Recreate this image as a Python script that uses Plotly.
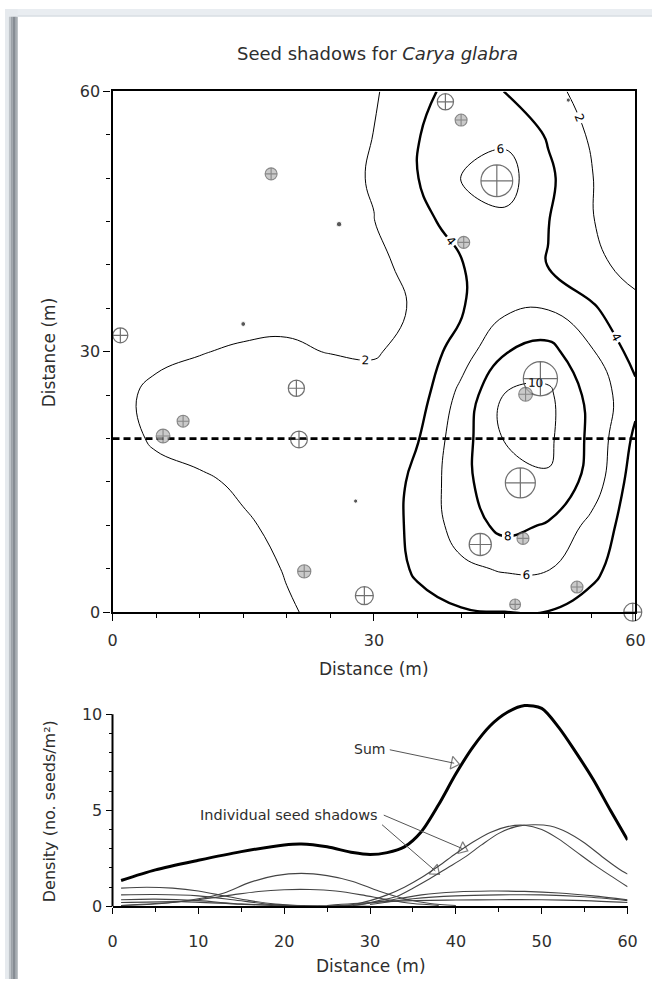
import plotly.graph_objects as go

# ---------------------------------------------------------------
# Seed-density field on the 60 m x 60 m plot (seeds / m^2), 5 m grid
# ---------------------------------------------------------------
grid_x = [0, 5, 10, 15, 20, 25, 30, 35, 40, 45, 50, 55, 60]
grid_y = [0, 5, 10, 15, 20, 25, 30, 35, 40, 45, 50, 55, 60]

density_y0 = [0.6, 0.9, 1.2, 1.55, 1.92, 2.2, 2.6, 3.3, 3.8, 3.98, 3.95, 3.2, 2.2]
density_y5 = [0.8, 1.1, 1.4, 1.7, 2.05, 2.3, 2.7, 4.3, 5.6, 6.2, 6.1, 4.5, 2.6]
density_y10 = [1.0, 1.3, 1.55, 1.85, 2.3, 2.5, 2.9, 4.5, 6.9, 8.6, 7.8, 5.4, 2.8]
density_y15 = [1.2, 1.5, 1.8, 2.2, 2.7, 2.7, 2.9, 4.4, 7.3, 9.7, 9.8, 7.2, 2.9]
density_y20 = [1.4, 2.2, 2.5, 2.9, 3.2, 3.1, 2.9, 3.9, 7.2, 10.05, 10.4, 7.5, 3.6]
density_y25 = [1.6, 2.3, 2.5, 2.8, 3.2, 3.0, 2.7, 3.0, 6.6, 10.1, 10.4, 7.3, 4.6]
density_y30 = [1.5, 1.7, 1.95, 2.15, 2.2, 1.95, 1.85, 2.6, 5.0, 7.9, 8.7, 6.2, 3.2]
density_y35 = [1.2, 1.3, 1.4, 1.5, 1.6, 1.6, 1.7, 2.1, 3.8, 5.6, 5.9, 4.3, 2.3]
density_y40 = [1.0, 1.1, 1.2, 1.3, 1.4, 1.6, 1.7, 2.4, 3.9, 5.0, 3.95, 2.3, 1.6]
density_y45 = [0.9, 1.0, 1.15, 1.3, 1.4, 1.6, 1.97, 3.3, 4.9, 5.6, 4.05, 2.05, 1.3]
density_y50 = [0.8, 0.9, 1.0, 1.2, 1.35, 1.6, 2.1, 3.95, 6.1, 6.8, 4.4, 2.05, 1.2]
density_y55 = [0.7, 0.8, 0.9, 1.1, 1.25, 1.5, 2.02, 3.9, 5.3, 5.6, 3.8, 1.7, 1.1]
density_y60 = [0.6, 0.7, 0.8, 0.95, 1.1, 1.4, 1.8, 3.3, 4.9, 3.98, 2.3, 1.6, 1.0]

density = [density_y0, density_y5, density_y10, density_y15, density_y20,
           density_y25, density_y30, density_y35, density_y40, density_y45,
           density_y50, density_y55, density_y60]

# ---------------------------------------------------------------
# Parent trees: position (m) and stem diameter (cm)
# ---------------------------------------------------------------
tree_x = [44.1, 49.1, 46.8, 42.2, 59.7, 28.9, 21.1, 21.4, 38.2, 0.9,
          5.8, 8.1, 22.0, 18.2, 40.0, 40.3, 47.4, 47.1, 53.3, 46.2,
          15.0, 26.0, 27.9, 52.3]
tree_y = [49.7, 26.9, 14.9, 7.8, 0.0, 1.9, 25.8, 19.9, 58.8, 31.9,
          20.3, 22.0, 4.7, 50.5, 56.7, 42.6, 25.1, 8.5, 2.9, 0.9,
          33.2, 44.7, 12.8, 59.0]
tree_dbh = [53, 57, 50, 37, 30, 30, 27, 28, 27, 25,
            23, 20, 22, 20, 20, 20, 23, 20, 20, 18,
            8, 9, 7, 7]

# transect along which the seed shadows are drawn
transect_y = 20

# ---------------------------------------------------------------
# Seed shadows along the transect (seeds / m^2)
# ---------------------------------------------------------------
sum_x = [1, 5, 10, 15, 20, 22, 25, 28, 30, 32, 34, 36, 38, 40, 42, 44, 46, 48,
         50, 52, 54, 56, 58, 60]
sum_v = [1.35, 1.9, 2.4, 2.85, 3.2, 3.25, 3.1, 2.8, 2.7, 2.8, 3.1, 3.9, 5.3,
         6.9, 8.3, 9.4, 10.1, 10.45, 10.3, 9.3, 8.0, 6.6, 5.0, 3.45]

shadow_a_x = [24, 28, 30, 32, 34, 36, 38, 40, 42, 44, 46, 48, 50, 52, 54, 56, 58, 60]
shadow_a_v = [0.0, 0.1, 0.3, 0.6, 1.0, 1.5, 2.1, 2.75, 3.35, 3.85, 4.15, 4.22,
              4.0, 3.5, 2.85, 2.2, 1.6, 1.02]

shadow_b_x = [25, 29, 31, 33, 35, 37, 39, 41, 43, 45, 47, 49, 51, 53, 55, 57, 59, 60]
shadow_b_v = [0.0, 0.1, 0.3, 0.5, 0.95, 1.45, 2.0, 2.55, 3.2, 3.8, 4.15, 4.25,
              4.18, 3.85, 3.3, 2.6, 1.95, 1.68]

shadow_c_x = [1, 4, 7, 10, 13, 16, 19, 22, 25, 28, 31, 34, 37, 40]
shadow_c_v = [0.05, 0.1, 0.2, 0.4, 0.7, 1.25, 1.6, 1.72, 1.6, 1.3, 0.8, 0.4, 0.15, 0.05]

shadow_d_x = [1, 5, 10, 14, 17, 20, 23, 26, 29, 32, 35, 38]
shadow_d_v = [0.05, 0.15, 0.35, 0.6, 0.78, 0.87, 0.88, 0.8, 0.6, 0.35, 0.15, 0.05]

shadow_e_x = [1, 4, 7, 10, 13, 16, 19, 22]
shadow_e_v = [0.95, 1.0, 0.95, 0.8, 0.55, 0.3, 0.12, 0.03]

shadow_f_x = [1, 5, 10, 14, 18, 22]
shadow_f_v = [0.6, 0.62, 0.55, 0.35, 0.12, 0.02]

shadow_g_x = [1, 5, 10, 15, 20]
shadow_g_v = [0.35, 0.38, 0.3, 0.12, 0.02]

shadow_h_x = [1, 8, 15, 22, 30]
shadow_h_v = [0.2, 0.25, 0.12, 0.04, 0.0]

shadow_i_x = [28, 32, 36, 40, 44, 48, 52, 56, 60]
shadow_i_v = [0.05, 0.3, 0.6, 0.75, 0.8, 0.78, 0.7, 0.55, 0.35]

shadow_j_x = [30, 35, 40, 45, 50, 55, 60]
shadow_j_v = [0.1, 0.4, 0.55, 0.6, 0.6, 0.5, 0.3]

shadow_k_x = [25, 30, 35, 40, 45, 50, 55, 60]
shadow_k_v = [0.05, 0.2, 0.3, 0.33, 0.35, 0.35, 0.3, 0.2]

shadows = [(shadow_a_x, shadow_a_v), (shadow_b_x, shadow_b_v),
           (shadow_c_x, shadow_c_v), (shadow_d_x, shadow_d_v),
           (shadow_e_x, shadow_e_v), (shadow_f_x, shadow_f_v),
           (shadow_g_x, shadow_g_v), (shadow_h_x, shadow_h_v),
           (shadow_i_x, shadow_i_v), (shadow_j_x, shadow_j_v),
           (shadow_k_x, shadow_k_v)]

# ---------------------------------------------------------------
W, H = 662, 989
FONT = "DejaVu Sans"
INK = "#2e2e2e"


def px(x):
    return x / W


def py(y):
    return 1 - y / H


fig = go.Figure()

# --- contour map -------------------------------------------------
contour_common = dict(
    x=grid_x, y=grid_y, z=density,
    xaxis="x", yaxis="y",
    autocontour=False,
    colorscale=[[0, "black"], [1, "black"]],
    showscale=False, hoverinfo="skip",
)
fig.add_trace(go.Contour(
    **contour_common,
    contours=dict(start=2, end=10, size=4, coloring="lines", showlabels=True,
                  labelfont=dict(family=FONT, size=12, color="black")),
    line=dict(width=1.0, smoothing=1.3),
))
fig.add_trace(go.Contour(
    **contour_common,
    contours=dict(start=4, end=8, size=4, coloring="lines", showlabels=True,
                  labelfont=dict(family=FONT, size=12, color="black")),
    line=dict(width=2.4, smoothing=1.3),
))

# transect
fig.add_trace(go.Scatter(
    x=[grid_x[0], grid_x[-1]], y=[transect_y, transect_y],
    mode="lines", line=dict(color="black", width=2.6, dash="7px,4px"),
    xaxis="x", yaxis="y", hoverinfo="skip", showlegend=False,
))

# trees, drawn by size class
def tree_class(lo, hi):
    idx = [i for i, d in enumerate(tree_dbh) if lo <= d < hi]
    return ([tree_x[i] for i in idx], [tree_y[i] for i in idx],
            [tree_dbh[i] * 0.6 for i in idx])

big_x, big_y, big_s = tree_class(25, 999)
mid_x, mid_y, mid_s = tree_class(12, 25)
dot_x, dot_y, dot_s = tree_class(0, 12)

fig.add_trace(go.Scatter(
    x=big_x, y=big_y, mode="markers", cliponaxis=False,
    marker=dict(symbol="circle-cross-open", size=big_s, color="#333333",
                line=dict(width=1.2, color="#333333")),
    xaxis="x", yaxis="y", hoverinfo="skip", showlegend=False,
))
fig.add_trace(go.Scatter(
    x=mid_x, y=mid_y, mode="markers", cliponaxis=False,
    marker=dict(symbol="circle-cross", size=mid_s, color="#b4b4b4",
                line=dict(width=1.1, color="#555555")),
    xaxis="x", yaxis="y", hoverinfo="skip", showlegend=False,
))
fig.add_trace(go.Scatter(
    x=dot_x, y=dot_y, mode="markers", cliponaxis=False,
    marker=dict(symbol="circle", size=dot_s, color="#111111"),
    xaxis="x", yaxis="y", hoverinfo="skip", showlegend=False,
))

# --- seed shadow profiles ----------------------------------------
for sx, sv in shadows:
    fig.add_trace(go.Scatter(
        x=sx, y=sv, mode="lines", line=dict(color="#444444", width=1.1,
                                            shape="spline", smoothing=0.8),
        xaxis="x2", yaxis="y2", hoverinfo="skip", showlegend=False,
    ))
fig.add_trace(go.Scatter(
    x=sum_x, y=sum_v, mode="lines",
    line=dict(color="black", width=3, shape="spline", smoothing=0.8),
    xaxis="x2", yaxis="y2", hoverinfo="skip", showlegend=False,
))


# label pointers with open arrowheads
def pointer(x0, y0, x1, y1):
    fig.add_trace(go.Scatter(
        x=[x0, x1], y=[y0, y1], mode="lines+markers",
        line=dict(color="#555555", width=1),
        marker=dict(symbol="triangle-up-open", size=[0, 11], angleref="previous",
                    color="#444444", line=dict(width=1.2)),
        xaxis="x2", yaxis="y2", hoverinfo="skip", showlegend=False,
        cliponaxis=False,
    ))


pointer(32.3, 8.15, 39.8, 7.45)
pointer(31.6, 4.75, 40.8, 3.0)
pointer(31.4, 4.25, 37.6, 1.85)

# --- axes ----------------------------------------------------------
tick_font = dict(family=FONT, size=16, color=INK)
frame = dict(showline=True, linewidth=2.2, linecolor="black", mirror=True,
             ticks="outside", ticklen=7, tickwidth=1.4, tickcolor="black",
             showgrid=False, zeroline=False, tickfont=tick_font,
             minor=dict(dtick=5, ticks="outside", ticklen=4, tickwidth=1,
                        tickcolor="black"))

fig.update_layout(
    width=W, height=H,
    margin=dict(l=0, r=0, t=0, b=0),
    paper_bgcolor="white", plot_bgcolor="white",
    showlegend=False,
    font=dict(family=FONT, color=INK),
    xaxis=dict(domain=[px(110), px(645)], range=[0, 60], anchor="y",
               tickvals=[0, 30, 60], ticklabelstandoff=6, **frame),
    yaxis=dict(domain=[py(615), py(84)], range=[0, 60], anchor="x",
               tickvals=[0, 30, 60], **frame),
    xaxis2=dict(domain=[px(110), px(637)], range=[0, 60], anchor="y2",
                tickvals=[0, 10, 20, 30, 40, 50, 60], showline=True,
                linewidth=2, linecolor="black", ticks="outside", ticklen=6,
                tickwidth=1.4, tickcolor="black", showgrid=False,
                zeroline=False, tickfont=tick_font, ticklabelstandoff=13,
                minor=dict(dtick=5, ticks="outside", ticklen=4, tickwidth=1,
                           tickcolor="black")),
    yaxis2=dict(domain=[py(915), py(915 - 10.6 * 19.6)], range=[0, 10.6],
                anchor="x2", tickvals=[0, 5, 10], showline=False,
                ticks="outside", ticklen=6, tickwidth=1.4, tickcolor="black",
                showgrid=False, zeroline=False, tickfont=tick_font,
                minor=dict(dtick=1, ticks="outside", ticklen=3, tickwidth=1,
                           tickcolor="black")),
)

# vertical axis line of the profile panel, running 0-10
fig.add_shape(type="line", xref="x2 domain", yref="y2", x0=0, x1=0, y0=0, y1=10,
              line=dict(color="black", width=2))

# page edge: light border with a soft shadow on the left
fig.add_shape(type="rect", xref="paper", yref="paper", x0=0, x1=1,
              y0=py(8), y1=1, fillcolor="#e9edf1", line_width=0, layer="above")
fig.add_shape(type="rect", xref="paper", yref="paper", x0=0, x1=px(13),
              y0=0, y1=1, fillcolor="#e6eaee", line_width=0, layer="above")
for x0, x1, col in [(4, 6, "#bfc4c9"), (6, 8, "#9ca2a8"), (8, 11, "#878d94"),
                    (11, 13, "#a9aeb3")]:
    fig.add_shape(type="rect", xref="paper", yref="paper", x0=px(x0), x1=px(x1),
                  y0=0, y1=py(8), fillcolor=col, line_width=0, layer="above")
fig.add_shape(type="rect", xref="paper", yref="paper", x0=px(13), x1=1,
              y0=py(8), y1=py(6), fillcolor="#dde2e7", line_width=0, layer="above")

# --- text ---------------------------------------------------------------
def label(text, x, y, size=15, angle=0):
    fig.add_annotation(text=text, x=px(x), y=py(y), xref="paper", yref="paper",
                       showarrow=False, textangle=angle,
                       font=dict(family=FONT, size=size, color=INK),
                       xanchor="center", yanchor="middle")


label("Seed shadows for <i>Carya glabra</i>", 381, 45, size=18)
label("Distance (m)", 378, 673, size=17)
label("Distance (m)", 45, 350, size=17, angle=-90)
label("Distance (m)", 374, 976, size=17)
label("Density (no. seeds/m²)", 45, 818, size=16, angle=-90)

fig.add_annotation(text="Sum", x=32.0, y=8.2, xref="x2", yref="y2",
                   xanchor="right", yanchor="middle", showarrow=False,
                   font=dict(family=FONT, size=14, color=INK))
fig.add_annotation(text="Individual seed shadows", x=31.2, y=4.75, xref="x2",
                   yref="y2", xanchor="right", yanchor="middle", showarrow=False,
                   font=dict(family=FONT, size=14.5, color=INK))

fig.write_html("out.html")
